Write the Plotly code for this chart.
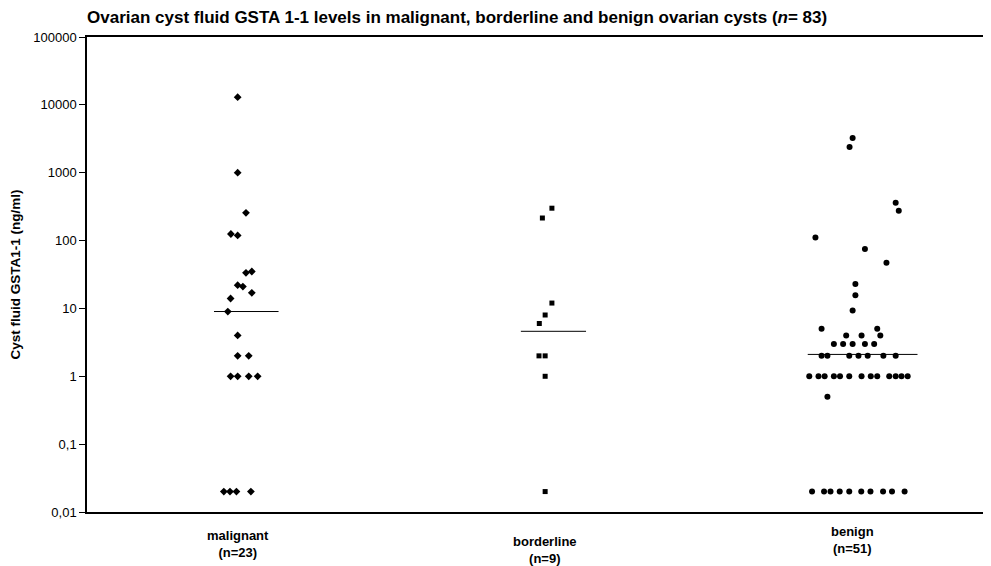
import plotly.graph_objects as go

# ---- data ----
categories = ["malignant", "borderline", "benign"]
category_labels = ["malignant<br>(n=23)", "borderline<br>(n=9)", "benign<br>(n=51)"]

malignant_values = [13000, 1000, 256, 125, 119, 33.5, 35, 22, 21, 17, 14, 9, 4,
                    2, 2, 1, 1, 1, 1, 0.02, 0.02, 0.02, 0.02]
malignant_offset = [0, 0, 0.027, -0.022, 0, 0.027, 0.046, 0, 0.017, 0.046, -0.023, -0.032, 0,
                    0, 0.036, -0.023, 0, 0.036, 0.065, -0.045, -0.025, -0.004, 0.043]

borderline_values = [300, 215, 12, 8, 6, 2, 2, 1, 0.02]
borderline_offset = [0.022, -0.009, 0.022, 0, -0.019, -0.020, 0, 0, 0]

benign_values = [3240, 2400, 360, 276, 111, 75, 47, 23, 15.7, 9.3,
                 5, 5, 4, 4, 4, 3, 3, 3, 3, 3,
                 2, 2, 2, 2, 2, 2, 2,
                 1, 1, 1, 1, 1, 1, 1, 1, 1, 1, 1, 1, 1,
                 0.5,
                 0.02, 0.02, 0.02, 0.02, 0.02, 0.02, 0.02, 0.02, 0.02, 0.02]
benign_offset = [0, -0.010, 0.140, 0.150, -0.121, 0.040, 0.110, 0.009, 0.009, 0,
                 -0.101, 0.080, -0.021, 0.029, 0.090, -0.061, -0.031, 0, 0.040, 0.070,
                 -0.101, -0.082, -0.011, 0.019, 0.049, 0.100, 0.140,
                 -0.141, -0.111, -0.091, -0.061, -0.041, -0.011, 0.029, 0.059, 0.080, 0.119, 0.140, 0.159, 0.179,
                 -0.082,
                 -0.132, -0.093, -0.072, -0.042, -0.011, 0.028, 0.058, 0.099, 0.128, 0.169]

median_values = [9, 4.6, 2.1]
median_left = [-0.077, -0.079, -0.146]
median_right = [0.133, 0.133, 0.211]

y_tickvals = [0.01, 0.1, 1, 10, 100, 1000, 10000, 100000]
y_ticktext = ["0,01", "0,1", "1", "10", "100", "1000", "10000", "100000"]

series = [
    (malignant_values, malignant_offset, "diamond", 6),
    (borderline_values, borderline_offset, "square", 5),
    (benign_values, benign_offset, "circle", 6),
]

fig = go.Figure()
for i, (vals, offs, sym, size) in enumerate(series):
    fig.add_trace(go.Scatter(
        x=[i + o for o in offs], y=vals, mode="markers",
        marker=dict(symbol=sym, size=size, color="black", line=dict(width=0)),
        showlegend=False, hoverinfo="y"))
    fig.add_trace(go.Scatter(
        x=[i + median_left[i], i + median_right[i]],
        y=[median_values[i], median_values[i]], mode="lines",
        line=dict(color="black", width=1), showlegend=False, hoverinfo="skip"))

label_shifts = [-22, -28, -18]
for i, lab in enumerate(category_labels):
    fig.add_annotation(x=i, y=0, xref="x", yref="paper", text="<b>" + lab + "</b>",
                       showarrow=False, yanchor="top", yshift=label_shifts[i] + 8,
                       font=dict(family="Liberation Sans Narrow, Liberation Sans, Arial", size=13, color="black"))

# y-axis title as a rotated annotation
fig.add_annotation(x=0, y=0.5, xref="paper", yref="paper", xanchor="center", yanchor="middle",
                   xshift=-72, textangle=-90, showarrow=False,
                   text="<b>Cyst fluid GSTA1-1 (ng/ml)</b>",
                   font=dict(size=13.5, family="Liberation Sans, Arial", color="black"))

# the page body adds an 8px offset, so the figure is sized to fill the remaining window
fig.update_layout(
    width=983, height=558,
    margin=dict(l=79, r=0, t=29, b=54, autoexpand=False),
    plot_bgcolor="white", paper_bgcolor="white",
    font=dict(family="Liberation Sans, Arial", color="black"),
    title=dict(text="<b>Ovarian cyst fluid GSTA 1-1 levels in malignant, borderline and benign ovarian cysts (<i>n</i>= 83)</b>",
               x=79 / 983, xanchor="left", y=1 - 9 / 558, yanchor="middle",
               font=dict(size=17, family="Liberation Sans, Arial", color="black")),
    xaxis=dict(range=[-0.49, 2.45], showticklabels=False, ticks="", showgrid=False,
               zeroline=False, showline=True, linecolor="black", linewidth=1.5, mirror=True),
    yaxis=dict(type="log", range=[-2, 5], tickvals=y_tickvals, ticktext=y_ticktext,
               ticks="outside", ticklen=6, tickcolor="black", showgrid=False, zeroline=False,
               showline=True, linecolor="black", linewidth=1.5, automargin=False,
               tickfont=dict(size=13, family="Liberation Sans, Arial", color="black")),
)

fig.write_html("out.html")
